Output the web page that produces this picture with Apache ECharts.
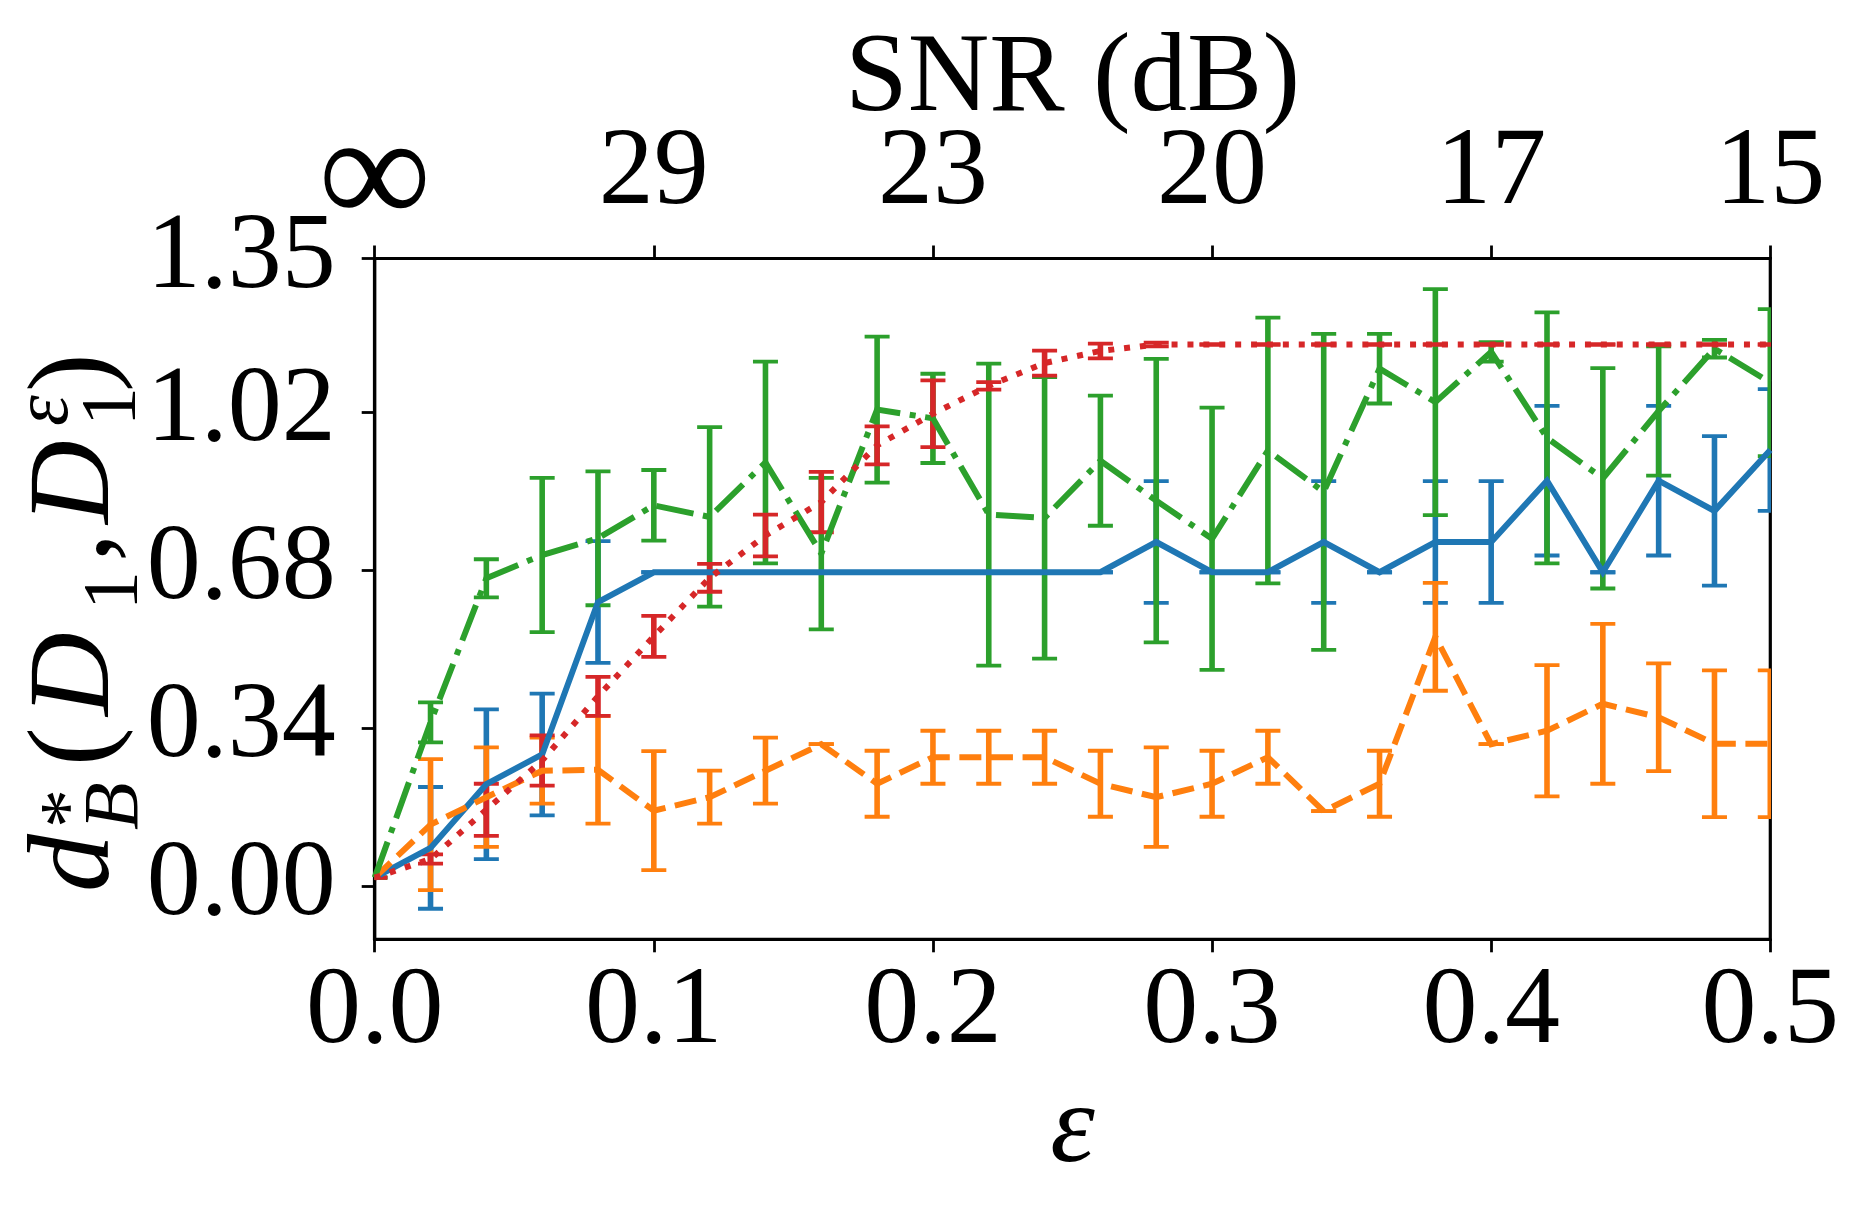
<!DOCTYPE html>
<html><head><meta charset="utf-8">
<script src="https://cdn.jsdelivr.net/npm/echarts@6/dist/echarts.min.js"></script>
<style>html,body{margin:0;padding:0;background:#fff}#c{width:1866px;height:1214px}</style>
</head><body><div id="c"></div>
<script>
// ---- data ----
const eps = [0,0.02,0.04,0.06,0.08,0.1,0.12,0.14,0.16,0.18,0.2,0.22,0.24,0.26,0.28,0.3,0.32,0.34,0.36,0.38,0.4,0.42,0.44,0.46,0.48,0.5];
const xTicks = [0,0.1,0.2,0.3,0.4,0.5];
const xTickLabels = ['0.0','0.1','0.2','0.3','0.4','0.5'];
const snrTickLabels = ['∞','29','23','20','17','15'];
const yTicks = [0,0.34,0.68,1.02,1.35];
const yTickLabels = ['0.00','0.34','0.68','1.02','1.35'];

const blueMean = [0.018,0.082,0.219,0.283,0.611,0.675,0.675,0.675,0.675,0.675,0.675,0.675,0.675,0.675,0.740,0.675,0.675,0.740,0.675,0.740,0.740,0.872,0.675,0.872,0.807,0.938];
const blueErr  = [0,0.131,0.161,0.131,0.131,0,0,0,0,0,0,0,0,0,0.131,0,0,0.131,0,0.131,0.131,0.161,0,0.161,0.161,0.131];

const orangeMean = [0.018,0.132,0.191,0.248,0.250,0.162,0.191,0.248,0.305,0.220,0.277,0.277,0.277,0.220,0.191,0.220,0.277,0.161,0.220,0.536,0.305,0.334,0.392,0.363,0.306,0.306];
const orangeErr  = [0,0.141,0.107,0.071,0.116,0.128,0.057,0.071,0,0.071,0.057,0.057,0.057,0.071,0.107,0.071,0.057,0,0.071,0.116,0,0.141,0.172,0.116,0.158,0.158];

const greenMean = [0.018,0.352,0.662,0.712,0.748,0.819,0.794,0.911,0.715,1.025,1.006,0.799,0.792,0.915,0.829,0.747,0.937,0.848,1.113,1.041,1.149,0.964,0.877,1.022,1.156,1.083];
const greenErr  = [0,0.043,0.041,0.166,0.144,0.076,0.193,0.217,0.163,0.157,0.096,0.325,0.303,0.140,0.305,0.282,0.286,0.340,0.075,0.243,0.021,0.270,0.237,0.139,0.019,0.158];

const redMean = [0.018,0.058,0.164,0.270,0.408,0.537,0.663,0.754,0.826,0.948,1.016,1.076,1.125,1.151,1.165,1.165,1.165,1.165,1.165,1.165,1.165,1.165,1.165,1.165,1.165,1.165];
const redErr  = [0,0.010,0.056,0.054,0.042,0.044,0.030,0.045,0.065,0.041,0.072,0.008,0.027,0.016,0.004,0,0,0,0,0,0,0,0,0,0,0];

// ---- styling ----
const FONT = "'Liberation Serif','DejaVu Serif',serif";
const C = {blue:'#1f77b4', orange:'#ff7f0e', green:'#2ca02c', red:'#d62728'};
const LW = 6;

function errData(mean, err){ return eps.map((x,i)=>[x, mean[i]-err[i], mean[i]+err[i]]); }
function lineData(mean){ return eps.map((x,i)=>[x, mean[i]]); }
function errRender(color){
  return function(params, api){
    const x = api.value(0), lo = api.value(1), hi = api.value(2);
    const p1 = api.coord([x, lo]), p2 = api.coord([x, hi]);
    const w = 12.5;
    return {type:'group', children:[
      {type:'line', shape:{x1:p1[0],y1:p1[1],x2:p2[0],y2:p2[1]}, style:{stroke:color,lineWidth:5.6}},
      {type:'line', shape:{x1:p1[0]-w,y1:p1[1],x2:p1[0]+w,y2:p1[1]}, style:{stroke:color,lineWidth:3.8}},
      {type:'line', shape:{x1:p2[0]-w,y1:p2[1],x2:p2[0]+w,y2:p2[1]}, style:{stroke:color,lineWidth:3.8}}
    ]};
  };
}
function errSeries(mean, err, color){
  return {type:'custom', renderItem: errRender(color), data: errData(mean, err),
    encode:{x:0, y:[1,2]}, clip:true, silent:true, z:2};
}
function lineSeries(mean, color, dash){
  return {type:'line', data: lineData(mean), showSymbol:false, symbol:'none', clip:true,
    lineStyle:{color, width:LW, type:dash, cap:'butt', join:'miter'}, z:3, animation:false};
}

// y label pieces: [text, u (along reading direction), baseline offset, fontSize, italic]
const yLabelParts = [
  ['d',0,0,116,true],
  ['*',64,-18,78,false],
  ['B',62,26,78,true],
  ['(',126,0,116,false],
  ['D',176,0,116,true],
  ['1',282,25,78,false],
  [',',330,0,116,false],
  ['D',368,0,116,true],
  ['ε',466,-44,78,true],
  ['1',466,23,78,false],
  [')',500,0,116,false]
];
const yLabelChildren = yLabelParts.map(p=>({
  type:'text', x:p[1], y:p[2]-0.3375*p[3],
  style:{text:p[0], fontSize:p[3], fontFamily:FONT, fontStyle:p[4]?'italic':'normal',
    fill:'#000', align:'left', verticalAlign:'middle', textAlign:'left', textVerticalAlign:'middle'}
}));

const chart = echarts.init(document.getElementById('c'), null, {renderer:'canvas'});
const axisLineStyle = {color:'#000', width:3.2};
const tickStyle = {color:'#000', width:2.8};
chart.setOption({
  animation:false,
  backgroundColor:'#fff',
  grid:{left:374.7, right:95.7, top:258.5, bottom:274.7, show:true, borderColor:'#000', borderWidth:3.2, containLabel:false, outerBoundsMode:'none'},
  xAxis:[{
    type:'value', min:0, max:0.5, position:'bottom',
    axisLine:{show:true, onZero:false, lineStyle:axisLineStyle},
    axisTick:{show:true, inside:false, length:13, lineStyle:tickStyle, customValues:xTicks},
    axisLabel:{show:true, margin:19, fontSize:110, fontFamily:FONT, color:'#000', customValues:xTicks,
      showMinLabel:true, showMaxLabel:true,
      formatter:(v)=>xTickLabels[xTicks.findIndex(t=>Math.abs(t-v)<1e-9)]},
    splitLine:{show:false},
    name:'ε', nameLocation:'middle', nameGap:135, nameMoveOverlap:false,
    nameTextStyle:{fontSize:113, fontStyle:'italic', fontFamily:FONT, color:'#000'}
  },{
    type:'value', min:0, max:0.5, position:'top',
    axisLine:{show:true, onZero:false, lineStyle:axisLineStyle},
    axisTick:{show:true, inside:false, length:13, lineStyle:tickStyle, customValues:xTicks},
    axisLabel:{show:true, margin:21.5, fontSize:110, fontFamily:FONT, color:'#000', customValues:xTicks,
      showMinLabel:true, showMaxLabel:true,
      formatter:(v)=>{const s = snrTickLabels[xTicks.findIndex(t=>Math.abs(t-v)<1e-9)]; return s==='∞' ? '{inf|'+s+'}' : '{n|'+s+'}';},
      rich:{
        inf:{fontSize:158, lineHeight:110, fontFamily:FONT, color:'#000'},
        n:{fontSize:110, lineHeight:110, fontFamily:FONT, color:'#000', padding:[0,0,15,0]}
      }},
    splitLine:{show:false},
    name:'SNR (dB)', nameLocation:'middle', nameGap:122, nameMoveOverlap:false,
    nameTextStyle:{fontSize:113, fontFamily:FONT, color:'#000'}
  }],
  yAxis:{
    type:'value', min:-0.1147, max:1.35,
    axisLine:{show:true, onZero:false, lineStyle:axisLineStyle},
    axisTick:{show:true, inside:false, length:13, lineStyle:tickStyle, customValues:yTicks},
    axisLabel:{show:true, margin:39, fontSize:108, fontFamily:FONT, color:'#000', customValues:yTicks,
      showMinLabel:true, showMaxLabel:true,
      formatter:(v)=>yTickLabels[yTicks.findIndex(t=>Math.abs(t-v)<1e-9)]},
    splitLine:{show:false}
  },
  graphic:[{
    type:'group', x:117, y:892, rotation:Math.PI/2, silent:true,
    children:yLabelChildren
  }],
  series:[
    errSeries(blueMean, blueErr, C.blue),
    lineSeries(blueMean, C.blue, 'solid'),
    errSeries(orangeMean, orangeErr, C.orange),
    lineSeries(orangeMean, C.orange, [22,9.6]),
    errSeries(greenMean, greenErr, C.green),
    lineSeries(greenMean, C.green, [38,9.6,6,9.6]),
    errSeries(redMean, redErr, C.red),
    lineSeries(redMean, C.red, [6,9.9])
  ]
});
</script>
</body></html>
